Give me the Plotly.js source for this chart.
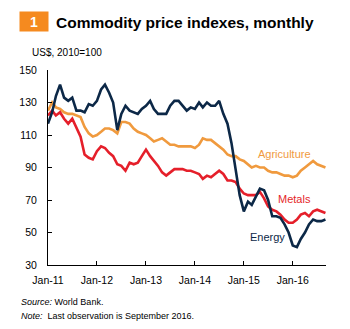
<!DOCTYPE html>
<html>
<head>
<meta charset="utf-8">
<script src="https://cdn.plot.ly/plotly-3.0.1.min.js"></script>
<style>html,body{margin:0;padding:0;background:#fff;}#chart{width:350px;height:329px;}</style>
</head>
<body>
<div id="chart"></div>
<script>
// Monthly observations, Jan-2011 .. Sep-2016 (69 months)
const startYear = 2011, startMonth = 1, nMonths = 69;
const energy = [117,124,134,141,133,131,133,125,125,124,129,128,
                131,138,141,136,130,113,123,128,125,124,123,126,
                128,131,126,123,123,123,128,131,131,128,125,127,
                126,130,127,130,128,128,131,123,117,105,88,73,
                63,69,67,72,77,76,70,60,60,59,55,50,
                42,41,46,50,55,58,57,57,58];
const agriculture = [125,130,127,126,124,123,123,122,121,115,111,109,
                     110,112,114,114,113,111,118,118,117,114,112,111,
                     110,108,106,107,108,106,104,104,103,103,103,103,
                     102,104,108,107,107,105,103,101,98,97,97,95,
                     94,92,90,91,90,90,88,87,87,86,85,85,
                     84,85,88,90,92,94,92,91,90];
const metals = [122,125,122,124,120,117,120,114,109,98,96,95,
                100,103,102,99,97,92,91,88,93,92,93,97,
                101,97,94,91,87,85,87,89,89,89,88,88,
                87,86,83,85,84,86,88,86,82,82,81,77,
                74,73,73,73,75,71,66,64,63,61,58,56,
                56,58,61,62,60,63,64,63,62];
const yTicks = [30,50,70,90,110,130,150];
const seriesNames = ['Energy','Agriculture','Metals'];

const dates = [];
for (let i = 0; i < nMonths; i++) {
  const y = startYear + Math.floor((startMonth - 1 + i) / 12);
  const m = ((startMonth - 1 + i) % 12) + 1;
  dates.push(y + '-' + String(m).padStart(2,'0') + '-01');
}

const cEnergy = '#0c2847', cAgri = '#f09a3e', cMetals = '#e51f2a';
const font = 'Liberation Sans, Arial, sans-serif';

const traces = [
  {x: dates, y: agriculture, name: seriesNames[1], mode: 'lines', line: {color: cAgri, width: 2.6}},
  {x: dates, y: metals, name: seriesNames[2], mode: 'lines', line: {color: cMetals, width: 2.6}},
  {x: dates, y: energy, name: seriesNames[0], mode: 'lines', line: {color: cEnergy, width: 2.6}}
];

const layout = {
  width: 350, height: 329,
  margin: {l: 48, r: 24, t: 70, b: 64},
  paper_bgcolor: '#fff', plot_bgcolor: '#fff',
  showlegend: false,
  xaxis: {
    type: 'date', range: ['2011-01-01', '2016-09-05'],
    tick0: '2011-01-01', dtick: 'M12', tickformat: '%b-%y',
    ticks: 'inside', ticklen: 4, tickcolor: '#000', tickwidth: 1,
    showline: true, linecolor: '#000', linewidth: 1,
    showgrid: false, zeroline: false, ticklabelstandoff: 5,
    tickfont: {family: font, size: 10.5, color: '#000'}
  },
  yaxis: {
    range: [30, 150], tickvals: yTicks,
    ticks: 'inside', ticklen: 4, tickcolor: '#000', tickwidth: 1,
    showline: true, linecolor: '#000', linewidth: 1,
    showgrid: false, zeroline: false, ticklabelstandoff: 8,
    tickfont: {family: font, size: 10.5, color: '#000'}
  },
  annotations: [
    {xref:'paper', yref:'paper', x:-0.05, y:1.2487, xanchor:'center', yanchor:'middle',
     text:'<b>1</b>', showarrow:false, bgcolor:'#f58a1f', width:28, height:19, borderpad:0,
     font:{family: font, size: 14, color:'#fff'}},
    {xref:'paper', yref:'paper', x:0.0216, y:1.246, xanchor:'left', yanchor:'middle',
     text:'<b>Commodity price indexes, monthly</b>', showarrow:false,
     font:{family: font, size: 15.5, color:'#000'}},
    {xref:'paper', yref:'paper', x:-0.0647, y:1.092, xanchor:'left', yanchor:'middle',
     text:'US$, 2010=100', showarrow:false,
     font:{family: font, size: 10, color:'#000'}},
    {xref:'paper', yref:'paper', x:-0.104, y:-0.19, xanchor:'left', yanchor:'middle',
     text:'<i>Source:</i> World Bank.', showarrow:false,
     font:{family: font, size: 9, color:'#000'}},
    {xref:'paper', yref:'paper', x:-0.104, y:-0.262, xanchor:'left', yanchor:'middle',
     text:'<i>Note:</i>  Last observation is September 2016.', showarrow:false,
     font:{family: font, size: 9, color:'#000'}},
    {xref:'x', yref:'y', x:'2015-04-01', y:98.5, xanchor:'left', yanchor:'middle',
     text:'Agriculture', showarrow:false, font:{family: font, size: 11, color: cAgri}},
    {xref:'x', yref:'y', x:'2015-08-28', y:70.8, xanchor:'left', yanchor:'middle',
     text:'Metals', showarrow:false, font:{family: font, size: 11, color: cMetals}},
    {xref:'x', yref:'y', x:'2015-02-01', y:47.5, xanchor:'left', yanchor:'middle',
     text:'Energy', showarrow:false, font:{family: font, size: 11, color: cEnergy}}
  ]
};

Plotly.newPlot('chart', traces, layout, {displayModeBar: false, staticPlot: true});
</script>
</body>
</html>
